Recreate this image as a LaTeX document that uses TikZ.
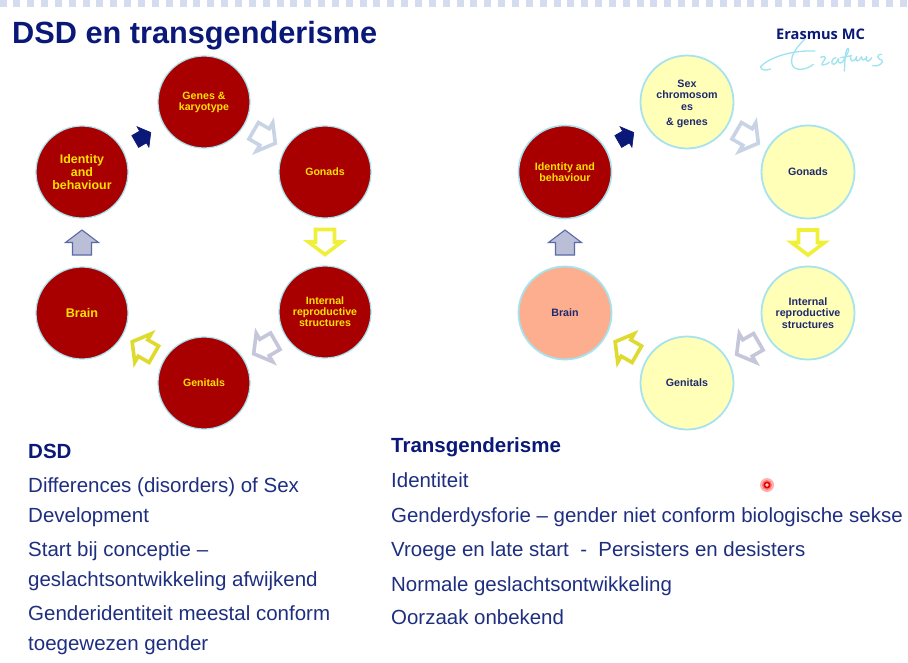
\documentclass[tikz,border=0pt]{standalone}
\usepackage{fontspec}
\setmainfont{Liberation Sans}
\newfontfamily\logofont{Open Sans}
\usetikzlibrary{calc}
\definecolor{navyt}{HTML}{0A1878}
\definecolor{bodyt}{HTML}{1F2F80}
\definecolor{dred}{HTML}{A80000}
\definecolor{halo}{HTML}{A6E3EE}
\definecolor{paley}{HTML}{FFFFB8}
\definecolor{peach}{HTML}{FCAE8F}
\definecolor{yelt}{HTML}{FFE100}
\definecolor{band}{HTML}{D6DCF0}
\definecolor{ringt}{HTML}{1F2A6E}
\definecolor{arrb}{HTML}{C9D3E6}
\definecolor{arry}{HTML}{F0F03A}
\definecolor{arro}{HTML}{DEDA2E}
\definecolor{arrg}{HTML}{C6C6DA}
\definecolor{arruf}{HTML}{BABED6}
\definecolor{arrud}{HTML}{5A6AA8}
\definecolor{sigc}{HTML}{9FE3F0}
\tikzset{
  x=1pt,y=-1pt,
  redc/.style={circle,minimum size=92pt,inner sep=0pt,fill=dred,draw=halo,line width=1.2pt,align=center,text=yelt,font=\bfseries\fontsize{10.6}{11.2}\selectfont},
  palec/.style={circle,minimum size=93pt,inner sep=0pt,fill=paley,draw=halo,line width=1.8pt,align=center,text=ringt,font=\bfseries\fontsize{10.7}{11.2}\selectfont},
  bigt/.style={font=\bfseries\fontsize{12.6}{13}\selectfont},
  bodyl/.style={anchor=base west,inner sep=0pt,text=bodyt,font=\fontsize{20.5}{24}\selectfont},
  bodyr/.style={anchor=base west,inner sep=0pt,text=bodyt,font=\fontsize{20.45}{24}\selectfont},
  headl/.style={anchor=base west,inner sep=0pt,text=navyt,font=\bfseries\fontsize{20.5}{24}\selectfont},
  arrnavy/.style={fill=navyt,draw=navyt,line width=.6pt,line join=miter},
  arrblue/.style={fill=white,draw=arrb,line width=3.6pt,line join=miter},
  arryel/.style={fill=white,draw=arry,line width=3.6pt,line join=miter},
  arrolive/.style={fill=white,draw=arro,line width=3.6pt,line join=miter},
  arrgrey/.style={fill=white,draw=arrg,line width=3.6pt,line join=miter},
  arrup/.style={fill=arruf,draw=arrud,line width=1.1pt,line join=miter},
  sig/.style={draw=sigc,line width=1.3pt,line cap=round,line join=round},
}
\newcommand{\blockarr}[5]{%
  \path[shift={($(#1)!0.5!(#2)$)},rotate=#3,scale=#5,#4]
    (-12.5,-9.5) -- (0,-9.5) -- (0,-16.5) -- (12.5,0) -- (0,16.5) -- (0,9.5) -- (-12.5,9.5) -- cycle;}
\begin{document}
\begin{tikzpicture}
\useasboundingbox (0,0) rectangle (908,662);
\fill[white] (0,0) rectangle (908,662);
% top band
\foreach \i in {0,...,65}{\fill[band] ({-0.5+13.85*\i},0) rectangle ({6.5+13.85*\i},7);}
% title
\node[anchor=base west,inner sep=0pt,text=navyt,font=\bfseries\fontsize{30.7}{32}\selectfont] (title) at (12,43) {DSD en transgenderisme};
% logo
\node[anchor=base west,inner sep=0pt,text=navyt,font=\logofont\bfseries\fontsize{14.6}{16}\selectfont] (logo) at (776,39) {Erasmus MC};
\begin{scope}[shift={(750,15)},scale=1/3]
\draw[sig] (165,72) .. controls (135,100) and (118,130) .. (127,150) .. controls (135,170) and (170,165) .. (190,148);
\draw[sig] (195,108) .. controls (130,105) and (60,125) .. (32,155) .. controls (30,165) and (48,168) .. (62,162);
\draw[sig] (212,127) .. controls (222,122) and (230,126) .. (224,134) .. controls (218,142) and (212,150) .. (218,150) .. controls (226,150) and (232,146) .. (238,142);
\draw[sig] (258,128) .. controls (245,128) and (240,150) .. (252,148) .. controls (262,145) and (264,130) .. (266,130) .. controls (262,140) and (268,150) .. (278,140);
\draw[sig] (278,140) .. controls (290,120) and (300,105) .. (295,100) .. controls (285,100) and (285,140) .. (283,168);
\draw[sig] (272,128) -- (305,122);
\draw[sig] (302,125) .. controls (300,140) and (310,145) .. (320,125) .. controls (316,140) and (322,145) .. (335,125) .. controls (335,135) and (340,142) .. (350,125) .. controls (345,140) and (355,145) .. (365,128);
\draw[sig] (395,118) .. controls (375,118) and (385,135) .. (395,135) .. controls (405,140) and (385,158) .. (368,152);
\end{scope}
% left cycle
\node[redc] (lg) at (204,102) {Genes \&\\karyotype};
\node[redc] (lo) at (325,172) {Gonads};
\node[redc] (lr) at (325,312) {Internal\\reproductive\\structures};
\node[redc] (lt) at (204,383) {Genitals};
\node[redc,bigt] (lb) at (82,313) {Brain};
\node[redc,font=\bfseries\fontsize{12.4}{13}\selectfont] (li) at (82,172) {Identity\\and\\behaviour};
\blockarr{lg}{lo}{-30}{arrblue}{1}
\blockarr{lo}{lr}{-90}{arryel}{1}
\blockarr{lr}{lt}{210}{arrgrey}{1}
\blockarr{lt}{lb}{150}{arrolive}{1}
\blockarr{lb}{li}{90}{arrup}{1}
\blockarr{li}{lg}{30}{arrnavy}{.72}
% right cycle
\node[palec] (rg) at (687,102) {\mbox{}\\Sex\\chromosom\\es\\[4pt]\& genes};
\node[palec] (ro) at (808,172) {Gonads};
\node[palec] (rr) at (808,313) {Internal\\reproductive\\structures};
\node[palec] (rt) at (687,383) {Genitals};
\node[palec,fill=peach,text=ringt] (rb) at (565,313) {Brain};
\node[redc,minimum size=93pt,line width=1.6pt,font=\bfseries\fontsize{10.7}{11.2}\selectfont] (ri) at (565,172) {Identity and\\behaviour};
\blockarr{rg}{ro}{-30}{arrblue}{1}
\blockarr{ro}{rr}{-90}{arryel}{1}
\blockarr{rr}{rt}{210}{arrgrey}{1}
\blockarr{rt}{rb}{150}{arrolive}{1}
\blockarr{rb}{ri}{90}{arrup}{1}
\blockarr{ri}{rg}{30}{arrnavy}{.72}
% left text
\node[headl] (t1) at (28,458) {DSD};
\node[bodyl] (t2) at (28,492) {Differences (disorders) of Sex};
\node[bodyl] (t3) at (28,522) {Development};
\node[bodyl] (t4) at (28,556) {Start bij conceptie –};
\node[bodyl] (t5) at (28,586) {geslachtsontwikkeling afwijkend};
\node[bodyl] (t6) at (28,620) {Genderidentiteit meestal conform};
\node[bodyl] (t7) at (28,650) {toegewezen gender};
% right text
\node[headl] (u1) at (391,452) {Transgenderisme};
\node[bodyr] (u2) at (391,487) {Identiteit};
\node[bodyr] (u3) at (391,522) {Genderdysforie – gender niet conform biologische sekse};
\node[bodyr] (u4) at (391,556) {Vroege en late start\ \ -\ \ Persisters en desisters};
\node[bodyr] (u5) at (391,591) {Normale geslachtsontwikkeling};
\node[bodyr] (u6) at (391,624) {Oorzaak onbekend};
% pointer
\fill[red!30] (767,485) circle (7);
\fill[red!55] (767,485) circle (5);
\draw[red!90!black,line width=1.6pt,fill=white!80!red] (767,485) circle (2.6);
\end{tikzpicture}
\end{document}
